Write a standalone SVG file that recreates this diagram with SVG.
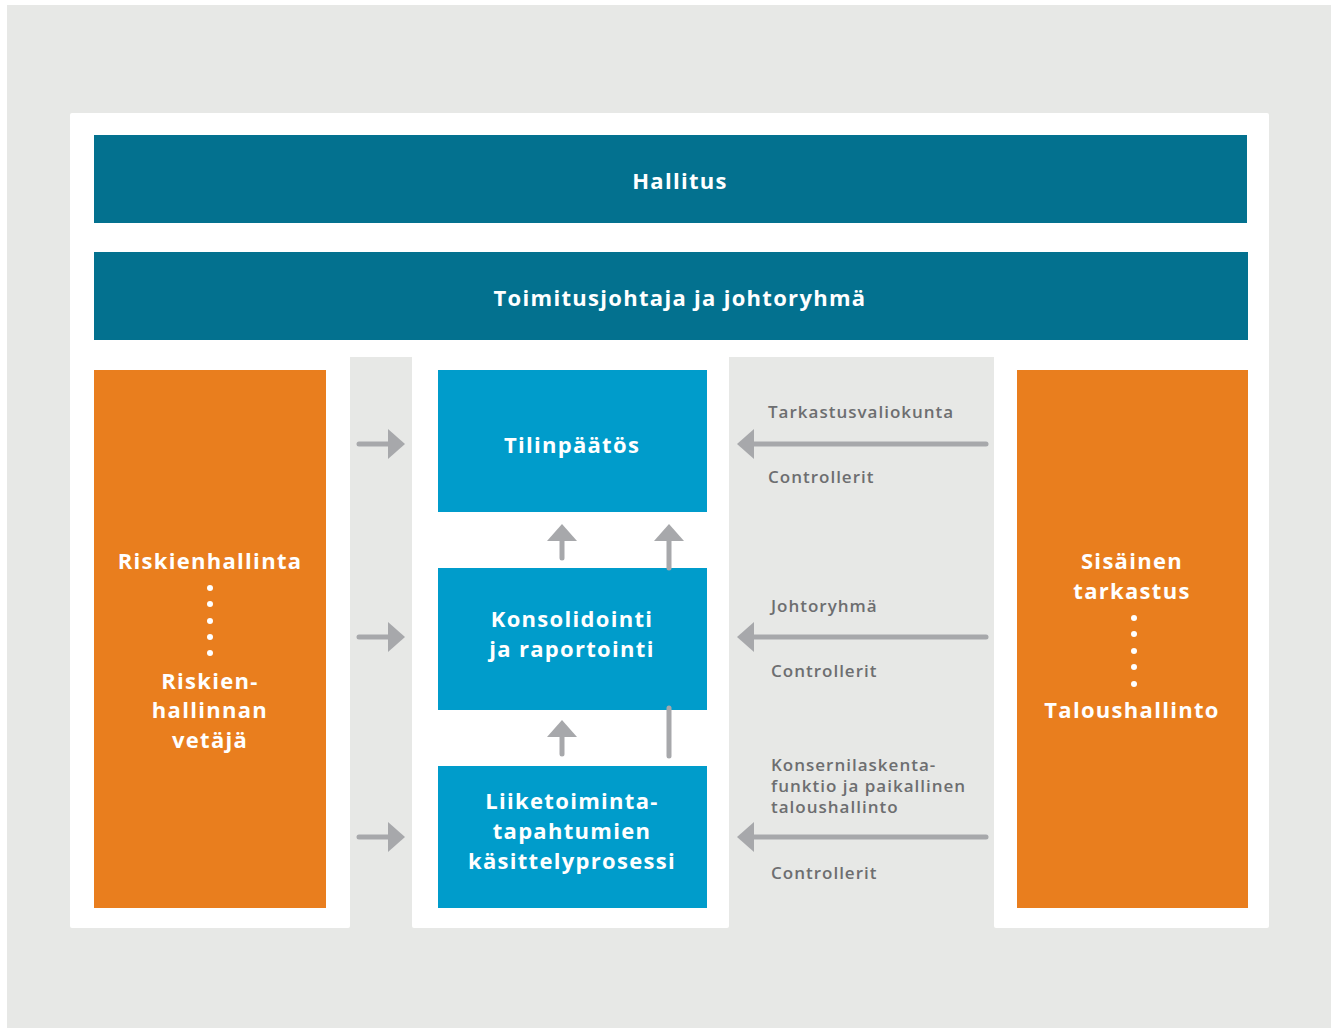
<svg xmlns="http://www.w3.org/2000/svg" width="1339" height="1028" viewBox="0 0 1339 1028">
<defs>
<style>
.bg{fill:#e7e8e6}
.white{fill:#ffffff}
.dark{fill:#03718f}
.orange{fill:#e97e1e}
.blue{fill:#009ccb}
.t{font-family:"Open Sans","Liberation Sans",sans-serif;font-weight:700;fill:#ffffff;text-anchor:middle;letter-spacing:1.3px}
.t22{font-size:22px}
.lbl{font-family:"Open Sans","Liberation Sans",sans-serif;font-weight:600;font-size:17px;fill:#6d6e70;letter-spacing:1px}
.shaft{stroke:#a7a8ab;stroke-width:5;stroke-linecap:round;fill:none}
.head{fill:#a7a8ab}
.dot{fill:#ffffff}
</style>
</defs>
<rect x="0" y="0" width="1339" height="1028" fill="#ffffff"/>
<rect class="bg" x="7" y="5" width="1324" height="1023"/>
<g id="panel">
<rect class="white" x="70" y="113" width="1199" height="245" rx="2"/>
<rect class="white" x="70" y="340" width="280" height="588" rx="2"/>
<rect class="white" x="412" y="340" width="317" height="588" rx="2"/>
<rect class="white" x="994" y="340" width="275" height="588" rx="2"/>
<rect class="bg" x="350" y="357" width="62" height="10"/>
<rect class="bg" x="729" y="357" width="265" height="10"/>
</g>
<g id="hallitus">
<rect class="dark" x="94" y="135" width="1153" height="88"/>
<text class="t t22" x="680" y="189">Hallitus</text>
</g>
<g id="johtoryhma">
<rect class="dark" x="94" y="252" width="1154" height="88"/>
<text class="t t22" x="680" y="306">Toimitusjohtaja ja johtoryhmä</text>
</g>
<g id="riskienhallinta">
<rect class="orange" x="94" y="370" width="232" height="538"/>
<text class="t t22" x="210" y="569">Riskienhallinta</text>
<circle class="dot" cx="210" cy="588" r="3"/>
<circle class="dot" cx="210" cy="604" r="3"/>
<circle class="dot" cx="210" cy="621" r="3"/>
<circle class="dot" cx="210" cy="637" r="3"/>
<circle class="dot" cx="210" cy="653" r="3"/>
<text class="t t22" x="210" y="689">Riskien-</text>
<text class="t t22" x="210" y="718">hallinnan</text>
<text class="t t22" x="210" y="748">vetäjä</text>
</g>
<g id="sisainen">
<rect class="orange" x="1017" y="370" width="231" height="538"/>
<text class="t t22" x="1132" y="569">Sisäinen</text>
<text class="t t22" x="1132" y="599">tarkastus</text>
<circle class="dot" cx="1134" cy="618" r="3"/>
<circle class="dot" cx="1134" cy="634" r="3"/>
<circle class="dot" cx="1134" cy="651" r="3"/>
<circle class="dot" cx="1134" cy="667" r="3"/>
<circle class="dot" cx="1134" cy="684" r="3"/>
<text class="t t22" x="1132" y="718">Taloushallinto</text>
</g>
<g id="tilinpaatos">
<rect class="blue" x="438" y="370" width="269" height="142"/>
<text class="t t22" x="572" y="453">Tilinpäätös</text>
</g>
<g id="konsolidointi">
<rect class="blue" x="438" y="568" width="269" height="142"/>
<text class="t t22" x="572" y="627">Konsolidointi</text>
<text class="t t22" x="572" y="657">ja raportointi</text>
</g>
<g id="liiketoiminta">
<rect class="blue" x="438" y="766" width="269" height="142"/>
<text class="t t22" x="572" y="809">Liiketoiminta-</text>
<text class="t t22" x="572" y="839">tapahtumien</text>
<text class="t t22" x="572" y="869">käsittelyprosessi</text>
</g>
<g id="connectors">
<line class="shaft" x1="359" y1="444" x2="392" y2="444"/>
<polygon class="head" points="388,429 405,444 388,459"/>
<line class="shaft" x1="359" y1="637" x2="392" y2="637"/>
<polygon class="head" points="388,622 405,637 388,652"/>
<line class="shaft" x1="359" y1="837" x2="392" y2="837"/>
<polygon class="head" points="388,822 405,837 388,852"/>
<line class="shaft" x1="562" y1="558" x2="562" y2="536"/>
<polygon class="head" points="547,541 562,524 577,541"/>
<line class="shaft" x1="669" y1="568" x2="669" y2="536"/>
<polygon class="head" points="654,541 669,524 684,541"/>
<line class="shaft" x1="562" y1="754" x2="562" y2="732"/>
<polygon class="head" points="547,737 562,720 577,737"/>
<line class="shaft" x1="669" y1="708" x2="669" y2="756"/>
<line class="shaft" x1="986" y1="444" x2="750" y2="444"/>
<polygon class="head" points="754,429 737,444 754,459"/>
<line class="shaft" x1="986" y1="637" x2="750" y2="637"/>
<polygon class="head" points="754,622 737,637 754,652"/>
<line class="shaft" x1="986" y1="837" x2="750" y2="837"/>
<polygon class="head" points="754,822 737,837 754,852"/>
</g>
<g id="labels">
<text class="lbl" x="768" y="418">Tarkastusvaliokunta</text>
<text class="lbl" x="768" y="483">Controllerit</text>
<text class="lbl" x="771" y="612">Johtoryhmä</text>
<text class="lbl" x="771" y="677">Controllerit</text>
<text class="lbl" x="771" y="771">Konsernilaskenta-</text>
<text class="lbl" x="771" y="792">funktio ja paikallinen</text>
<text class="lbl" x="771" y="813">taloushallinto</text>
<text class="lbl" x="771" y="879">Controllerit</text>
</g>
</svg>
